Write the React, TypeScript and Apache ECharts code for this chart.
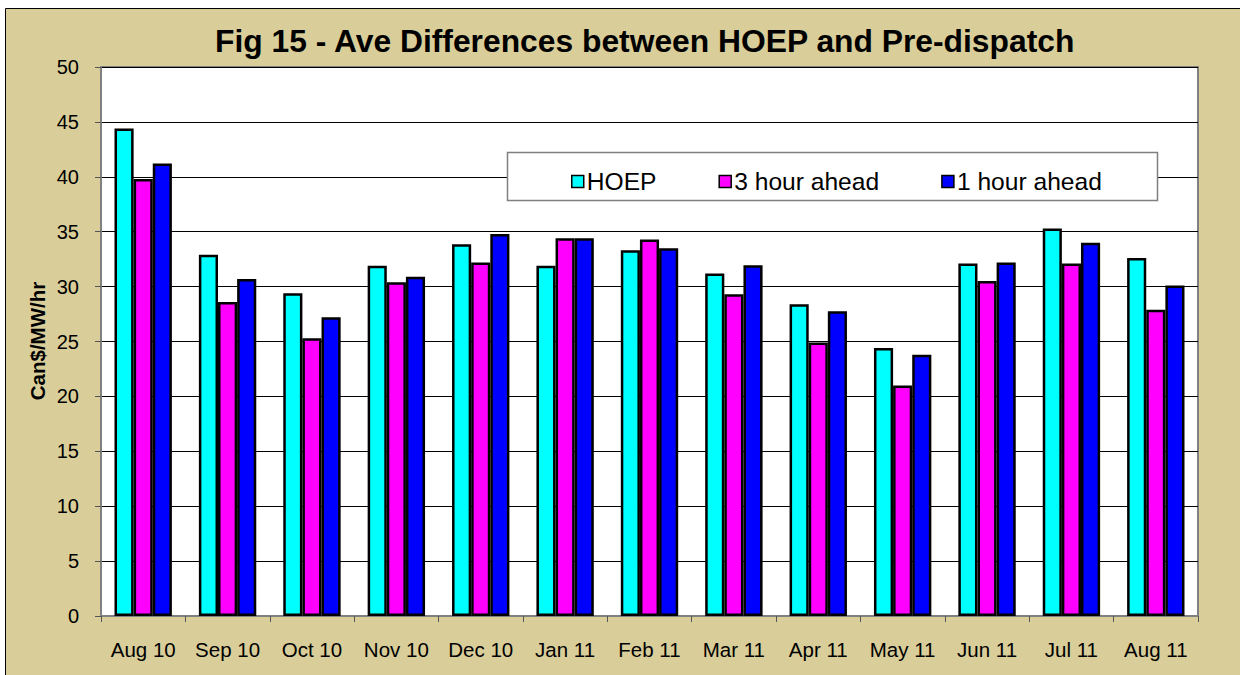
import React, { useEffect, useRef } from "react";
import * as echarts from "echarts";

const categories = ["Aug 10", "Sep 10", "Oct 10", "Nov 10", "Dec 10", "Jan 11", "Feb 11", "Mar 11", "Apr 11", "May 11", "Jun 11", "Jul 11", "Aug 11"];
const hoep = [44.4, 32.9, 29.4, 31.9, 33.85, 31.9, 33.3, 31.2, 28.4, 24.4, 32.1, 35.3, 32.6];
const hourAhead3 = [39.8, 28.6, 25.3, 30.4, 32.2, 34.4, 34.3, 29.3, 24.9, 21.0, 30.5, 32.1, 27.9];
const hourAhead1 = [41.2, 30.7, 27.2, 30.9, 34.8, 34.4, 33.5, 31.95, 27.75, 23.8, 32.2, 34.0, 30.1];
const seriesNames = ["HOEP", "3 hour ahead", "1 hour ahead"];
const seriesColors = ["#00FFFF", "#FF00FF", "#0000FF"];

const FONT = "'Liberation Sans', Arial, sans-serif";

export default function App() {
  const ref = useRef<HTMLDivElement>(null);
  useEffect(() => {
    if (!ref.current) return;
    const chart = echarts.init(ref.current, null, { renderer: "svg" });
    const datasets = [hoep, hourAhead3, hourAhead1];
    chart.setOption({
      animation: false,
      backgroundColor: "#ffffff",
      textStyle: { fontFamily: FONT },
      grid: { left: 101, right: 42, top: 67, bottom: 59, show: true, backgroundColor: "#ffffff", borderColor: "#808080", borderWidth: 2, z: 0 },
      graphic: [
        { type: "rect", z: -10, zlevel: 0, silent: true, shape: { x: 5.5, y: 8.5, width: 1240, height: 680 }, style: { fill: "#D9CE99", stroke: "#000000", lineWidth: 1 } },
        { type: "text", left: 215, top: 25, z: 10, style: { text: "Fig 15 - Ave Differences between HOEP and Pre-dispatch", font: `bold 31.8px ${FONT}`, fill: "#000" } },
        { type: "text", x: 37, y: 341, rotation: Math.PI / 2, z: 10, style: { text: "Can$/MW/hr", font: `bold 20.5px ${FONT}`, fill: "#000", align: "center", verticalAlign: "middle" } },
        { type: "rect", z: 5, shape: { x: 507.5, y: 152.5, width: 650, height: 48 }, style: { fill: "#ffffff", stroke: "#808080", lineWidth: 1.5 } },
      ],
      legend: {
        show: true,
        left: 566,
        top: 164,
        z: 20,
        itemWidth: 12,
        itemHeight: 12,
        itemGap: 62,
        icon: "rect",
        textStyle: { fontSize: 24.6, fontFamily: FONT, color: "#000", padding: [0, 0, 0, -2] },
        itemStyle: { borderColor: "#000", borderWidth: 1.5 },
        data: seriesNames,
      },
      xAxis: {
        type: "category",
        data: categories,
        axisLine: { lineStyle: { color: "#808080", width: 2 } },
        axisTick: { show: true, alignWithLabel: false, length: 6, lineStyle: { color: "#555", width: 1 } },
        axisLabel: { fontSize: 20.5, color: "#000", margin: 23, fontFamily: FONT, interval: 0 },
        splitLine: { show: false },
      },
      yAxis: {
        type: "value",
        min: 0,
        max: 50,
        interval: 5,
        axisLine: { show: true, lineStyle: { color: "#808080", width: 2 } },
        axisTick: { show: true, length: 6, lineStyle: { color: "#555", width: 1 } },
        axisLabel: { fontSize: 20, color: "#000", margin: 22, fontFamily: FONT },
        splitLine: { show: true, lineStyle: { color: "#000", width: 1 } },
      },
      series: datasets.map((d, i) => ({
        name: seriesNames[i],
        type: "bar",
        data: d,
        barGap: "0%",
        barCategoryGap: "32%",
        itemStyle: { color: seriesColors[i], borderColor: "#000", borderWidth: 2.5, borderType: "solid" },
      })),
    });
    return () => chart.dispose();
  }, []);
  return <div ref={ref} style={{ position: "absolute", left: 0, top: 0, width: 1240, height: 675 }} />;
}
